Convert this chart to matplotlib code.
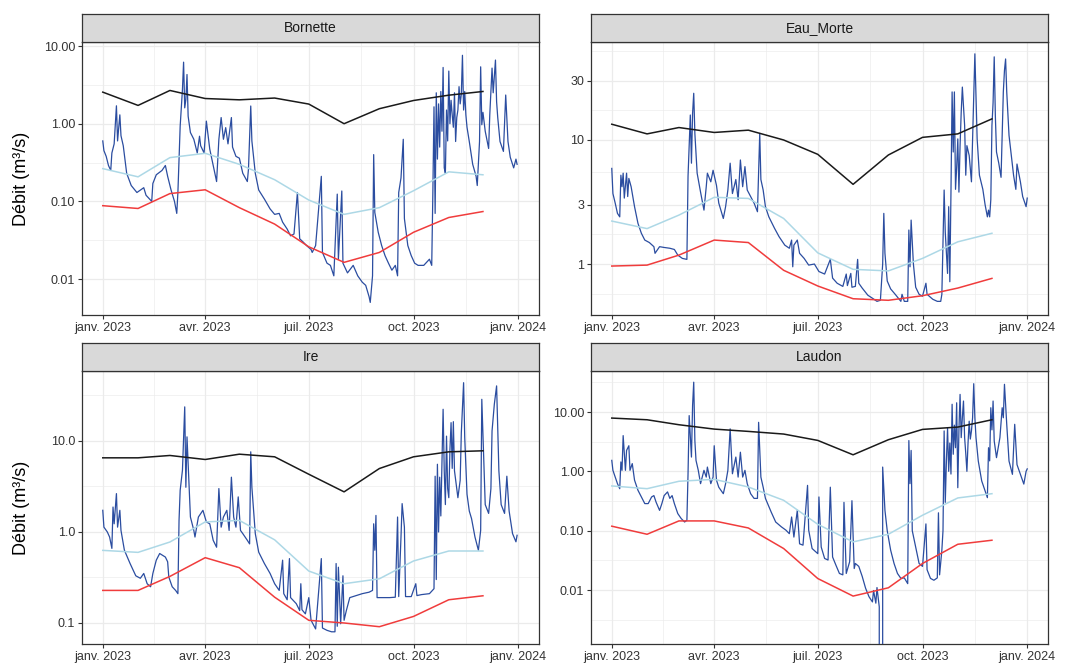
import numpy as np
import pandas as pd
import matplotlib
matplotlib.use("Agg")
import matplotlib.pyplot as plt
from matplotlib.ticker import NullFormatter

plt.rcParams['font.family'] = ['Liberation Sans', 'DejaVu Sans']

# ---- data -------------------------------------------------------------
months = pd.date_range("2023-01-01", periods=12, freq="MS")

# monthly reference lines (high / median / low), first of each month
bornette_high = [2.55, 1.72, 2.68, 2.11, 2.03, 2.14, 1.79, 1.00, 1.56, 1.99, 2.33, 2.60]
bornette_med = [0.264, 0.207, 0.366, 0.416, 0.30, 0.19, 0.104, 0.068, 0.083, 0.137, 0.24, 0.22]
bornette_low = [0.088, 0.081, 0.126, 0.141, 0.083, 0.051, 0.026, 0.0164, 0.022, 0.040, 0.062, 0.074]

eau_morte_high = [13.4, 11.2, 12.6, 11.5, 12.0, 10.0, 7.66, 4.39, 7.57, 10.5, 11.2, 14.8]
eau_morte_med = [2.22, 1.93, 2.48, 3.45, 3.38, 2.33, 1.23, 0.906, 0.88, 1.11, 1.51, 1.77]
eau_morte_low = [0.963, 0.98, 1.18, 1.56, 1.49, 0.89, 0.665, 0.525, 0.51, 0.555, 0.64, 0.766]

ire_high = [6.53, 6.53, 6.93, 6.26, 7.16, 6.70, 4.31, 2.76, 4.98, 6.70, 7.60, 7.80]
ire_med = [0.628, 0.597, 0.776, 1.29, 1.34, 0.82, 0.372, 0.27, 0.306, 0.48, 0.618, 0.618]
ire_low = [0.228, 0.228, 0.325, 0.522, 0.405, 0.192, 0.107, 0.100, 0.091, 0.118, 0.180, 0.199]

laudon_high = [7.9, 7.4, 6.1, 5.15, 4.71, 4.25, 3.32, 1.90, 3.41, 5.09, 5.57, 7.4]
laudon_med = [0.567, 0.51, 0.68, 0.733, 0.545, 0.325, 0.128, 0.0647, 0.087, 0.182, 0.356, 0.42]
laudon_low = [0.119, 0.087, 0.146, 0.146, 0.111, 0.050, 0.0156, 0.0079, 0.0109, 0.028, 0.059, 0.069]

# daily discharge: (day of year 2023, m3/s), 0 = 1 Jan
bornette_daily = [
    (0, 0.60), (1, 0.45), (3, 0.38), (5, 0.29), (7, 0.25), (8, 0.42), (10, 0.55), (12, 1.70), (13, 0.60),
    (15, 1.30), (16, 0.70), (18, 0.52), (21, 0.23), (25, 0.16), (30, 0.13), (36, 0.15), (38, 0.12), (43, 0.10),
    (44, 0.17), (47, 0.22), (52, 0.25), (55, 0.29), (57, 0.21), (60, 0.14), (63, 0.10), (65, 0.07), (66, 0.13),
    (68, 0.93), (70, 2.76), (71, 6.2), (72, 1.6), (73, 2.05), (74, 4.3), (75, 1.25), (77, 0.77), (80, 0.63),
    (83, 0.42), (85, 0.69), (86, 0.52), (89, 0.42), (91, 1.08), (94, 0.47), (97, 0.29), (100, 0.18), (102, 0.63),
    (104, 1.20), (106, 0.63), (108, 0.89), (110, 0.55), (113, 1.20), (114, 0.50), (117, 0.38), (120, 0.36),
    (123, 0.23), (127, 0.18), (128, 0.26), (130, 1.69), (131, 0.60), (134, 0.23), (137, 0.14), (142, 0.107),
    (147, 0.080), (151, 0.068), (155, 0.070), (158, 0.054), (162, 0.044), (165, 0.036), (168, 0.038), (171, 0.13),
    (173, 0.033), (176, 0.030), (179, 0.027), (183, 0.024), (184, 0.022), (187, 0.027), (192, 0.21), (193, 0.022),
    (197, 0.016), (200, 0.015), (201, 0.0135), (203, 0.011), (206, 0.124), (207, 0.018), (210, 0.136), (211, 0.016),
    (215, 0.012), (220, 0.015), (224, 0.011), (228, 0.0091), (231, 0.0083), (234, 0.0059), (235, 0.0050),
    (237, 0.011), (238, 0.40), (239, 0.072), (242, 0.040), (245, 0.027), (248, 0.020), (251, 0.016), (254, 0.013),
    (257, 0.015), (259, 0.011), (260, 0.13), (262, 0.20), (264, 0.63), (265, 0.06), (268, 0.027), (271, 0.020),
    (274, 0.016), (277, 0.015), (282, 0.015), (287, 0.018), (289, 0.015), (290, 0.13), (291, 1.65), (292, 0.07),
    (293, 2.5), (294, 0.35), (295, 1.8), (296, 0.5), (297, 2.6), (298, 0.8), (299, 5.3), (300, 0.27), (301, 0.23),
    (302, 1.5), (303, 0.6), (304, 4.76), (305, 1.0), (306, 2.0), (307, 1.3), (308, 0.9), (309, 2.5), (310, 0.59),
    (311, 1.2), (312, 1.5), (313, 3.0), (314, 1.8), (315, 2.4), (316, 7.6), (317, 1.5), (318, 2.6), (319, 1.3),
    (320, 0.9), (322, 0.59), (325, 0.30), (328, 0.21), (329, 0.16), (331, 0.59), (332, 5.4), (333, 0.97),
    (334, 1.4), (336, 0.8), (339, 0.48), (340, 1.3), (342, 5.2), (343, 2.5), (345, 6.6), (346, 1.92), (347, 1.2),
    (349, 0.59), (352, 0.44), (354, 2.34), (356, 0.59), (358, 0.37), (361, 0.27), (363, 0.35), (364, 0.30),
]

eau_morte_daily = [
    (0, 5.9), (1, 3.7), (3, 3.1), (5, 2.56), (7, 2.4), (8, 5.2), (9, 4.2), (10, 5.4), (11, 3.4), (13, 5.4),
    (14, 3.5), (15, 4.9), (17, 4.2), (20, 2.9), (23, 2.13), (26, 1.77), (29, 1.56), (33, 1.49), (37, 1.38),
    (38, 1.22), (42, 1.38), (46, 1.36), (51, 1.34), (55, 1.31), (58, 1.18), (62, 1.11), (66, 1.09), (67, 5.1),
    (69, 15.9), (70, 6.5), (71, 16.4), (72, 23.8), (73, 11.3), (75, 5.4), (78, 3.8), (81, 2.72), (83, 4.2),
    (84, 5.4), (87, 4.6), (89, 5.7), (92, 4.3), (94, 3.1), (98, 2.33), (100, 2.9), (102, 3.95), (104, 6.5),
    (106, 3.7), (109, 4.8), (111, 3.3), (113, 6.9), (115, 4.2), (117, 6.1), (119, 3.95), (122, 3.5), (125, 3.1),
    (128, 2.64), (130, 11.3), (131, 4.8), (133, 3.95), (135, 2.9), (138, 2.4), (143, 1.94), (147, 1.66),
    (152, 1.42), (156, 1.34), (158, 1.56), (159, 0.95), (160, 1.42), (163, 1.56), (165, 1.22), (169, 1.11),
    (173, 0.98), (178, 1.00), (182, 0.87), (187, 0.83), (192, 1.09), (194, 0.77), (198, 0.70), (203, 0.66),
    (206, 0.83), (207, 0.67), (210, 0.84), (211, 0.65), (214, 0.66), (216, 1.09), (217, 0.70), (220, 0.64),
    (225, 0.56), (229, 0.53), (233, 0.50), (236, 0.51), (238, 1.00), (239, 2.56), (240, 1.22), (242, 0.73),
    (245, 0.63), (249, 0.57), (254, 0.50), (255, 0.57), (257, 0.50), (260, 0.50), (261, 1.88), (262, 0.95),
    (263, 2.26), (265, 1.00), (267, 0.65), (270, 0.57), (273, 0.55), (276, 0.70), (277, 0.57), (282, 0.52),
    (286, 0.50), (289, 0.50), (290, 0.57), (292, 3.95), (293, 1.8), (295, 0.84), (296, 2.9), (297, 0.72),
    (298, 3.8), (299, 24.4), (300, 8.0), (301, 24.4), (302, 4.0), (303, 6.0), (304, 10.2), (305, 3.8), (306, 9.0),
    (307, 16.8), (308, 26.7), (310, 13.1), (311, 5.2), (312, 9.0), (314, 7.5), (316, 4.6), (317, 10.0),
    (318, 20.2), (319, 49.5), (320, 22.0), (321, 10.2), (323, 5.2), (326, 4.0), (328, 3.0), (330, 2.4),
    (331, 2.72), (332, 2.4), (333, 3.3), (334, 13.1), (335, 20.0), (336, 46.8), (337, 15.6), (338, 8.0),
    (340, 6.5), (342, 5.0), (344, 24.4), (345, 36.4), (346, 45.0), (347, 24.4), (349, 10.9), (351, 7.5),
    (353, 5.2), (355, 4.0), (356, 6.4), (359, 4.6), (360, 4.0), (361, 3.5), (364, 2.9), (365, 3.4),
]

ire_daily = [
    (0, 1.73), (1, 1.13), (4, 1.00), (6, 0.88), (8, 0.66), (9, 1.88), (10, 1.23), (12, 2.64), (13, 1.13),
    (15, 1.73), (16, 1.04), (19, 0.63), (24, 0.45), (29, 0.33), (33, 0.31), (36, 0.35), (39, 0.27), (42, 0.25),
    (44, 0.35), (47, 0.49), (50, 0.58), (55, 0.53), (57, 0.47), (58, 0.32), (61, 0.25), (64, 0.228), (66, 0.21),
    (67, 1.34), (68, 2.87), (70, 4.77), (72, 23.7), (73, 3.1), (74, 11.1), (77, 1.46), (80, 1.04), (81, 0.88),
    (84, 1.46), (88, 1.73), (91, 1.29), (94, 1.23), (97, 0.81), (100, 0.68), (102, 3.0), (104, 1.13),
    (106, 1.46), (109, 1.73), (111, 1.04), (113, 4.0), (115, 1.46), (117, 1.13), (119, 2.43), (121, 1.04),
    (123, 0.96), (127, 0.81), (129, 0.74), (130, 7.6), (131, 3.1), (134, 0.96), (137, 0.60), (142, 0.45),
    (147, 0.35), (151, 0.27), (155, 0.228), (158, 0.49), (159, 0.21), (162, 0.18), (164, 0.51), (165, 0.19),
    (170, 0.163), (173, 0.137), (174, 0.27), (175, 0.14), (178, 0.126), (181, 0.19), (183, 0.107), (187, 0.086),
    (192, 0.51), (193, 0.088), (197, 0.083), (201, 0.080), (204, 0.080), (205, 0.45), (206, 0.092), (207, 0.41),
    (209, 0.098), (211, 0.33), (212, 0.107), (214, 0.137), (217, 0.19), (221, 0.197), (228, 0.21), (234, 0.218),
    (237, 0.228), (238, 1.23), (239, 0.63), (240, 1.52), (241, 0.19), (246, 0.19), (252, 0.19), (257, 0.192),
    (259, 1.46), (260, 0.195), (262, 0.88), (263, 2.05), (265, 1.13), (266, 0.195), (271, 0.195), (275, 0.27),
    (276, 0.20), (280, 0.205), (287, 0.21), (291, 0.238), (292, 4.1), (293, 0.3), (294, 5.55), (295, 1.0),
    (296, 4.0), (297, 1.5), (299, 22.3), (300, 4.7), (301, 2.0), (302, 11.3), (303, 3.0), (304, 2.38),
    (305, 8.0), (306, 15.9), (307, 5.0), (308, 16.3), (309, 4.7), (311, 3.0), (312, 2.38), (314, 3.7),
    (315, 12.3), (317, 43.7), (318, 10.9), (320, 2.6), (322, 1.7), (324, 1.4), (327, 0.88), (330, 0.63),
    (332, 1.04), (333, 28.7), (335, 4.7), (336, 2.0), (339, 1.6), (341, 3.0), (342, 12.9), (344, 25.3),
    (346, 40.3), (348, 4.7), (350, 2.0), (353, 1.6), (355, 4.1), (357, 1.7), (360, 0.96), (363, 0.78),
    (364, 0.92),
]

laudon_daily = [
    (0, 1.53), (1, 1.04), (3, 0.80), (5, 0.62), (7, 0.51), (8, 1.44), (9, 1.04), (10, 4.0), (12, 1.04),
    (13, 2.25), (15, 2.7), (16, 1.04), (18, 1.35), (20, 0.71), (23, 0.48), (26, 0.37), (29, 0.286), (32, 0.286),
    (35, 0.37), (37, 0.39), (39, 0.30), (42, 0.22), (44, 0.286), (46, 0.39), (49, 0.45), (51, 0.35), (53, 0.39),
    (55, 0.286), (58, 0.194), (61, 0.16), (64, 0.14), (66, 0.15), (67, 0.91), (68, 8.7), (70, 1.74), (71, 12.9),
    (72, 31.8), (73, 3.3), (74, 1.53), (76, 1.04), (78, 0.62), (81, 1.04), (83, 0.80), (84, 1.18), (87, 0.62),
    (89, 0.80), (90, 2.7), (92, 0.71), (94, 0.54), (98, 0.42), (100, 0.62), (102, 1.04), (104, 5.2), (106, 0.91),
    (109, 1.74), (111, 0.80), (113, 2.1), (115, 0.80), (117, 1.04), (119, 0.62), (122, 0.42), (125, 0.35),
    (128, 0.35), (129, 6.7), (131, 0.80), (133, 0.54), (135, 0.35), (140, 0.207), (144, 0.14), (149, 0.116),
    (153, 0.102), (156, 0.089), (158, 0.17), (160, 0.078), (163, 0.22), (165, 0.060), (168, 0.057), (172, 0.58),
    (173, 0.102), (176, 0.050), (181, 0.041), (182, 0.37), (184, 0.053), (187, 0.034), (190, 0.032), (192, 0.54),
    (194, 0.036), (197, 0.026), (200, 0.019), (203, 0.018), (204, 0.30), (206, 0.019), (209, 0.030), (211, 0.32),
    (213, 0.023), (214, 0.028), (217, 0.025), (220, 0.017), (223, 0.0107), (226, 0.0077), (229, 0.0063),
    (230, 0.0098), (232, 0.0060), (233, 0.011), (235, 0.0052), (236, 0.0), (238, 1.18), (240, 0.22), (242, 0.10),
    (245, 0.047), (248, 0.028), (251, 0.019), (254, 0.0157), (257, 0.016), (260, 0.0128), (261, 3.3), (262, 0.62),
    (263, 2.25), (264, 0.10), (267, 0.053), (270, 0.028), (273, 0.025), (276, 0.13), (277, 0.022), (280, 0.0157),
    (283, 0.0146), (286, 0.016), (287, 0.2), (288, 0.018), (290, 0.047), (291, 0.10), (292, 4.8), (293, 0.3),
    (294, 1.5), (295, 5.4), (296, 1.0), (297, 3.0), (298, 0.9), (299, 13.5), (300, 1.94), (301, 6.0), (302, 2.5),
    (303, 14.3), (304, 0.53), (305, 5.0), (306, 19.8), (307, 3.7), (308, 8.0), (309, 15.3), (310, 3.7),
    (311, 2.0), (312, 1.0), (313, 3.0), (314, 7.0), (315, 3.5), (316, 4.8), (317, 8.0), (318, 30.0), (319, 8.0),
    (320, 3.7), (322, 1.49), (325, 0.69), (328, 0.47), (330, 0.36), (331, 2.5), (332, 1.5), (333, 11.8),
    (334, 5.0), (335, 15.3), (336, 3.25), (338, 1.7), (341, 3.7), (343, 11.8), (344, 8.0), (345, 29.3),
    (347, 6.2), (349, 1.49), (352, 0.89), (354, 6.2), (356, 1.3), (359, 0.89), (362, 0.61), (364, 1.0),
    (365, 1.1),
]

# y axis per panel: ticks, tick labels, limits as seen in the reference
bornette_ticks = [0.01, 0.1, 1, 10]
bornette_labels = ["0.01", "0.10", "1.00", "10.00"]
eau_morte_ticks = [1, 3, 10, 30]
eau_morte_labels = ["1", "3", "10", "30"]
ire_ticks = [0.1, 1, 10]
ire_labels = ["0.1", "1.0", "10.0"]
laudon_ticks = [0.01, 0.1, 1, 10]
laudon_labels = ["0.01", "0.10", "1.00", "10.00"]

x_ticks = pd.to_datetime(["2023-01-01", "2023-04-01", "2023-07-01", "2023-10-01", "2024-01-01"])
x_labels = ["janv. 2023", "avr. 2023", "juil. 2023", "oct. 2023", "janv. 2024"]

# ---- layout ------------------------------------------------------------
W, H = 1065, 666
BLUE = "#2B4DA0"
GRID = "#EBEBEB"
EDGE = "#333333"


def frac(x0, y0, x1, y1):
    return [x0 / W, 1 - y1 / H, (x1 - x0) / W, (y1 - y0) / H]


panels = [
    dict(name="Bornette", daily=bornette_daily, high=bornette_high, med=bornette_med, low=bornette_low,
         ticks=bornette_ticks, labels=bornette_labels, ylim=(10 ** -2.463, 10 ** 1.052),
         box=(82, 42, 539, 315), ylab=True),
    dict(name="Eau_Morte", daily=eau_morte_daily, high=eau_morte_high, med=eau_morte_med, low=eau_morte_low,
         ticks=eau_morte_ticks, labels=eau_morte_labels, ylim=(10 ** -0.411, 10 ** 1.790),
         box=(591, 42, 1048, 315), ylab=False),
    dict(name="Ire", daily=ire_daily, high=ire_high, med=ire_med, low=ire_low,
         ticks=ire_ticks, labels=ire_labels, ylim=(10 ** -1.231, 10 ** 1.769),
         box=(82, 371, 539, 644), ylab=True),
    dict(name="Laudon", daily=laudon_daily, high=laudon_high, med=laudon_med, low=laudon_low,
         ticks=laudon_ticks, labels=laudon_labels, ylim=(10 ** -2.910, 10 ** 1.691),
         box=(591, 371, 1048, 644), ylab=False),
]

fig = plt.figure(figsize=(W / 100, H / 100), dpi=100)
fig.patch.set_facecolor("white")

t0 = pd.Timestamp("2023-01-01")
xlim = (t0 - pd.Timedelta(days=18.25), pd.Timestamp("2024-01-01") + pd.Timedelta(days=18.25))
x_minor = [t0 + pd.Timedelta(days=d) for d in (45, 135.5, 227, 319)]

for p in panels:
    x0, y0, x1, y1 = p["box"]
    ax = fig.add_axes(frac(x0, y0, x1, y1))
    sax = fig.add_axes(frac(x0, y0 - 28, x1, y0))

    day, q = zip(*p["daily"])
    dates = t0 + pd.to_timedelta(list(day), unit="D")
    ax.plot(dates, q, color=BLUE, lw=0.9, zorder=3)
    ax.plot(months, p["high"], color="#1a1a1a", lw=1.1, zorder=4)
    ax.plot(months, p["med"], color="#ADD8E6", lw=1.1, zorder=4)
    ax.plot(months, p["low"], color="#F03C3C", lw=1.1, zorder=4)

    ax.set_yscale("log")

    lt = np.log10(p["ticks"])
    mids = list((lt[:-1] + lt[1:]) / 2)
    mids = [lt[0] - (lt[1] - lt[0]) / 2] + mids + [lt[-1] + (lt[-1] - lt[-2]) / 2]
    ax.set_yticks(p["ticks"])
    ax.set_yticklabels(p["labels"])
    ax.set_yticks([10 ** m for m in mids], minor=True)
    ax.yaxis.set_minor_formatter(NullFormatter())
    ax.set_xticks(x_ticks)
    ax.set_xticklabels(x_labels)
    ax.set_xticks(x_minor, minor=True)
    # limits last, set_ticks may widen them
    ax.set_ylim(*p["ylim"])
    ax.set_xlim(*xlim)

    ax.grid(which="major", color=GRID, lw=0.9)
    ax.grid(which="minor", color=GRID, lw=0.45)
    ax.set_axisbelow(True)
    ax.tick_params(which="major", length=3, width=0.8, color=EDGE, pad=2,
                   labelsize=9, labelcolor="#333333")
    ax.tick_params(which="minor", length=0)
    for s in ax.spines.values():
        s.set_color(EDGE)
        s.set_linewidth(0.9)

    sax.set_facecolor("#D9D9D9")
    sax.set_xticks([])
    sax.set_yticks([])
    for s in sax.spines.values():
        s.set_color(EDGE)
        s.set_linewidth(0.9)
    sax.text(0.5, 0.5, p["name"], ha="center", va="center", fontsize=10,
             color="#1A1A1A", transform=sax.transAxes)

    if p["ylab"]:
        fig.text(22 / W, 1 - ((y0 + y1) / 2) / H, "Débit (m³/s)", rotation=90,
                 ha="center", va="center", fontsize=13, color="black")

fig.savefig("out.png", dpi=100)
